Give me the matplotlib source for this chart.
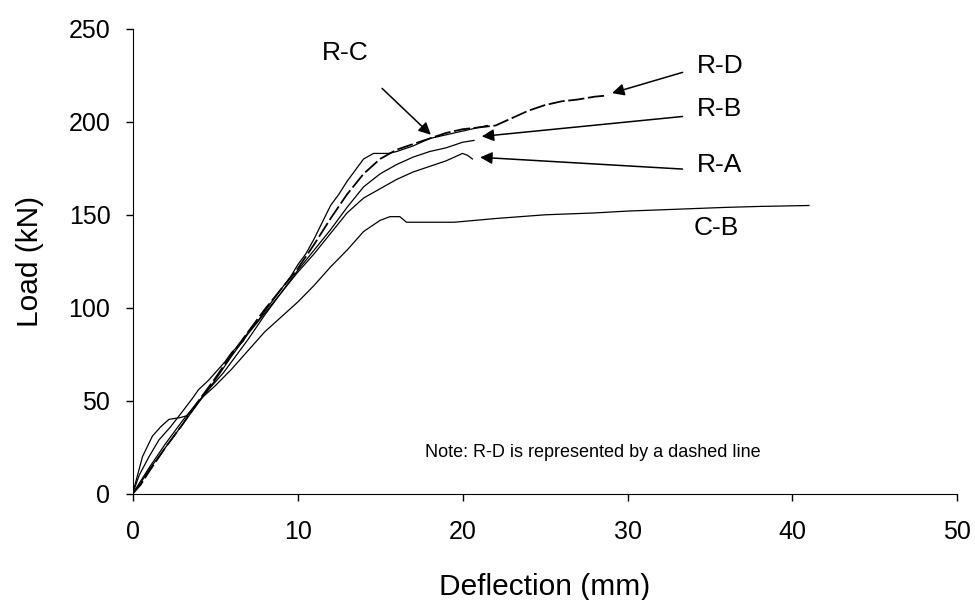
import numpy as np
import matplotlib.pyplot as plt

plt.rcParams['font.family'] = ['Liberation Sans', 'DejaVu Sans']

# Load-deflection curves (deflection mm, load kN)
rc_x = [0, 0.4, 1, 1.6, 2.3, 3, 3.6, 4, 4.6, 5, 5.6, 6, 6.7, 7, 7.6, 8, 8.5, 9, 9.6, 10,
        10.5, 11, 11.5, 12, 12.5, 13, 13.5, 14, 14.6, 15.5, 16, 17, 18, 19, 20, 21, 21.5]
rc_y = [0, 10, 20, 29, 36, 44, 51, 56, 61, 65, 71, 76, 82, 87, 93, 98, 104, 110, 117, 123,
        129, 137, 146, 155, 161, 168, 174, 180, 183, 183, 184, 187, 191, 193, 195, 197, 198]

rd_x = [0, 0.5, 1, 2, 3, 4, 5, 6, 7, 8, 9, 10, 11, 12, 13, 14, 15, 16, 17, 18, 19, 20,
        21, 22, 23, 24, 25, 26, 27, 28, 28.6]
rd_y = [0, 5, 12, 25, 37, 50, 62, 75, 87, 99, 110, 121, 134, 148, 161, 172, 180, 185, 188,
        191, 194, 196, 197, 198, 202, 206, 209, 211, 212, 213.5, 214]

rb_x = [0, 0.5, 1, 2, 3, 4, 5, 6, 7, 8, 9, 10, 11, 12, 13, 14, 15, 16, 17, 18, 19, 20, 20.7]
rb_y = [0, 6, 13, 25, 37, 49, 61, 74, 86, 97, 108, 120, 131, 142, 154, 165, 172, 177, 181,
        184, 186, 189, 190]

ra_x = [0, 0.3, 0.6, 1.2, 1.7, 2.2, 2.9, 3.3, 3.8, 4.3, 5, 5.5, 6, 7, 8, 9, 10, 10.5, 11,
        12, 13, 14, 15, 16, 17, 18, 19, 20, 20.3, 20.6]
ra_y = [0, 10, 20, 31, 36, 40, 41, 42, 47, 53, 60, 65, 71, 83, 96, 108, 119, 124, 129,
        140, 151, 159, 164, 169, 173, 176, 179, 183, 182, 180]

cb_x = [0, 0.5, 1, 2, 3, 4, 5, 6, 7, 8, 9, 10, 11, 12, 13, 14, 15, 15.6, 16.2, 16.6,
        19.5, 22, 25, 28, 30, 33, 36, 38, 41]
cb_y = [0, 7, 14, 27, 39, 50, 58, 67, 77, 87, 95, 103, 112, 122, 131, 141, 147, 149, 149,
        146, 146, 148, 150, 151, 152, 153, 154, 154.5, 155]

fig = plt.figure(figsize=(9.75, 6), dpi=100)
ax = fig.add_axes([0.136, 0.177, 0.846, 0.775])

lw = 0.9
ax.plot(rc_x, rc_y, color='black', lw=lw)
ax.plot(rb_x, rb_y, color='black', lw=lw)
ax.plot(ra_x, ra_y, color='black', lw=lw)
ax.plot(cb_x, cb_y, color='black', lw=lw)
ax.plot(rd_x, rd_y, color='black', lw=1.3, dashes=(9, 2))

arrow = dict(arrowstyle='-|>', color='black', lw=1.1, mutation_scale=18)
ax.annotate('', xy=(18.2, 192), xytext=(15.0, 219), arrowprops=arrow)
ax.annotate('', xy=(28.9, 215), xytext=(33.5, 227), arrowprops=arrow)
ax.annotate('', xy=(21.0, 192), xytext=(33.5, 203), arrowprops=arrow)
ax.annotate('', xy=(20.9, 181), xytext=(33.5, 174.5), arrowprops=arrow)

lab = dict(fontsize=19, va='center', ha='left')
ax.text(12.9, 237, 'R-C', fontsize=19, va='center', ha='center')
ax.text(34.2, 230, 'R-D', **lab)
ax.text(34.2, 207, 'R-B', **lab)
ax.text(34.2, 177, 'R-A', **lab)
ax.text(34.0, 143, 'C-B', **lab)
ax.text(17.7, 22, 'Note: R-D is represented by a dashed line', fontsize=13, va='center')

ax.set_xlim(0, 50)
ax.set_ylim(0, 250)
ax.set_xticks([0, 10, 20, 30, 40, 50])
ax.set_yticks([0, 50, 100, 150, 200, 250])
ax.spines['top'].set_visible(False)
ax.spines['right'].set_visible(False)
ax.tick_params(direction='out', length=5, width=1, labelsize=18)
ax.tick_params(axis='x', pad=14)
ax.tick_params(axis='y', pad=11)
ax.set_xlabel('Deflection (mm)', fontsize=21.5, labelpad=21)
ax.set_ylabel('Load (kN)', fontsize=21.5, labelpad=18)

fig.savefig('out.png', dpi=100)
